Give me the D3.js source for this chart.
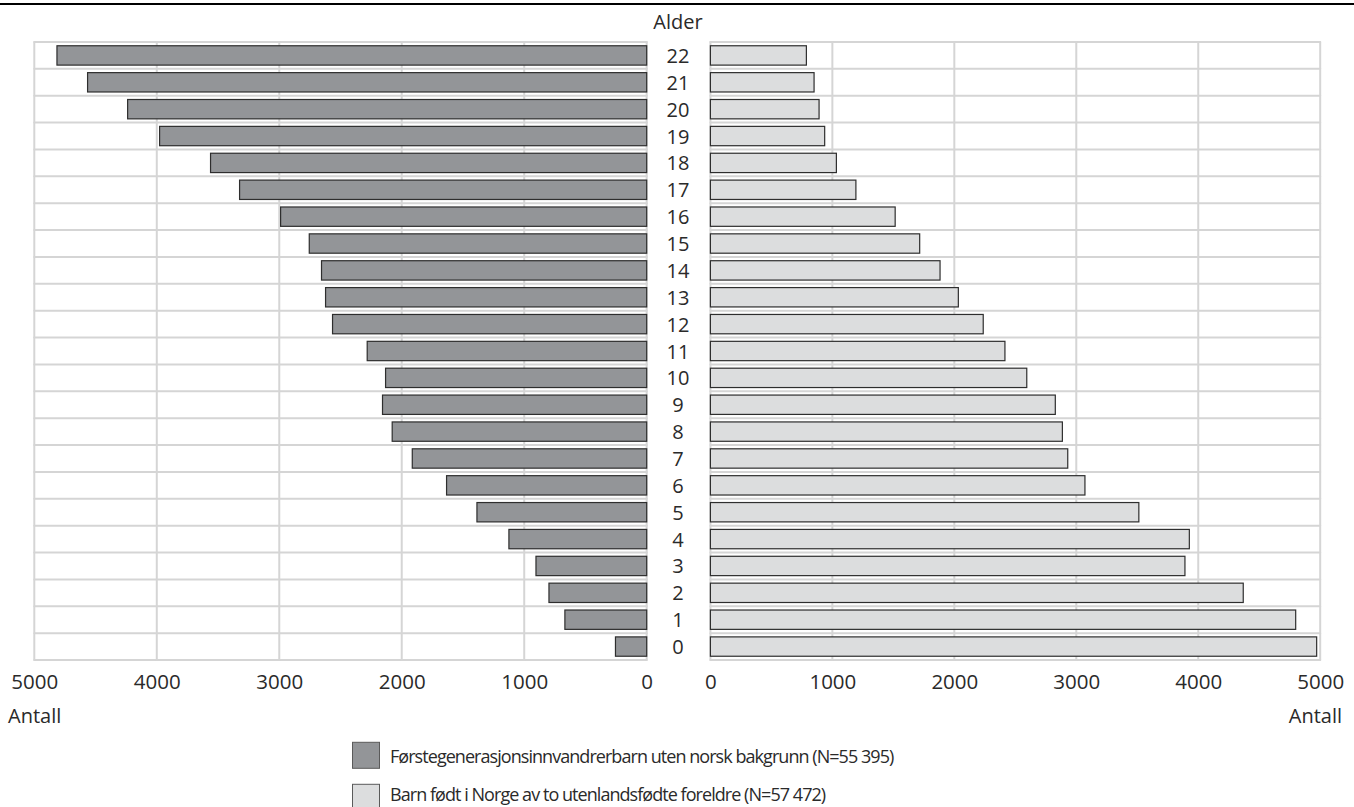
<!DOCTYPE html>
<html>
<head>
<meta charset="utf-8">
<script src="https://cdn.jsdelivr.net/npm/d3@7"></script>
<style>
  body { margin: 0; background: #fff; }
  svg { display: block; font-family: "Open Sans", sans-serif; }
</style>
</head>
<body>
<svg id="chart" width="1354" height="807"></svg>
<script>
// ages from 0 to 22
var ages = ['0','1','2','3','4','5','6','7','8','9','10','11','12','13','14','15','16','17','18','19','20','21','22']
// Førstegenerasjonsinnvandrerbarn (left side)
var firstGen = [255, 668, 798, 904, 1125, 1386, 1634, 1914, 2078, 2157, 2132, 2282, 2565, 2622, 2655, 2755, 2989, 3324, 3561, 3977, 4238, 4565, 4815]
// Barn født i Norge av to utenlandsfødte foreldre (right side)
var bornNorway = [4971, 4799, 4369, 3891, 3927, 3513, 3071, 2930, 2886, 2828, 2594, 2415, 2237, 2033, 1883, 1716, 1515, 1193, 1033, 937, 891, 850, 787]
var xTicks = [0, 1000, 2000, 3000, 4000, 5000]
var seriesNames = [
  'Førstegenerasjonsinnvandrerbarn uten norsk bakgrunn (N=55 395)',
  'Barn født i Norge av to utenlandsfødte foreldre (N=57 472)'
]
var colors = ['#939598', '#dcddde']

var svg = d3.select('#chart')

// black rule at top
svg.append('line')
  .attr('x1', 0).attr('x2', 1354)
  .attr('y1', 4).attr('y2', 4)
  .attr('stroke', '#000')
  .attr('stroke-width', 2)

var leftX = d3.scaleLinear().domain([5000, 0]).range([34.3, 646.7])
var rightX = d3.scaleLinear().domain([0, 5000]).range([710.4, 1320.2])
var y = d3.scaleBand()
  .domain(ages.slice().reverse())
  .range([42, 660])
  .paddingInner(0.28)
  .paddingOuter(0.14)

var step = y.step()
var rowLines = d3.range(ages.length + 1).map(function(k) { return 42 + k * step })

function drawGrid(x) {
  var g = svg.append('g').attr('class', 'grid')
  var r = x.range()
  g.selectAll('line.h')
    .data(rowLines)
    .enter()
    .append('line')
    .attr('x1', d3.min(r)).attr('x2', d3.max(r))
    .attr('y1', function(d) { return d }).attr('y2', function(d) { return d })
  g.selectAll('line.v')
    .data(xTicks)
    .enter()
    .append('line')
    .attr('x1', function(d) { return x(d) }).attr('x2', function(d) { return x(d) })
    .attr('y1', 42).attr('y2', 660)
  g.selectAll('line')
    .attr('stroke', '#d5d5d5')
    .attr('stroke-width', 2)
    .attr('stroke-linecap', 'round')
}
drawGrid(leftX)
drawGrid(rightX)

// left bars
svg.append('g')
  .selectAll('rect')
  .data(firstGen)
  .enter()
  .append('rect')
  .attr('x', function(d) { return leftX(d) })
  .attr('y', function(d, i) { return y(ages[i]) })
  .attr('width', function(d) { return leftX(0) - leftX(d) })
  .attr('height', y.bandwidth())
  .attr('fill', colors[0])
  .attr('stroke', '#2e2e2e')
  .attr('stroke-width', 1.2)

// right bars
svg.append('g')
  .selectAll('rect')
  .data(bornNorway)
  .enter()
  .append('rect')
  .attr('x', rightX(0))
  .attr('y', function(d, i) { return y(ages[i]) })
  .attr('width', function(d) { return rightX(d) - rightX(0) })
  .attr('height', y.bandwidth())
  .attr('fill', colors[1])
  .attr('stroke', '#2e2e2e')
  .attr('stroke-width', 1.2)

// age labels in the middle
svg.append('g')
  .selectAll('text')
  .data(ages)
  .enter()
  .append('text')
  .attr('x', 678)
  .attr('y', function(d) { return y(d) + y.bandwidth() / 2 + 7.5 })
  .attr('text-anchor', 'middle')
  .attr('font-size', 20)
  .attr('fill', '#2a2a2a')
  .text(function(d) { return d })

svg.append('text')
  .attr('x', 678).attr('y', 29)
  .attr('text-anchor', 'middle')
  .attr('font-size', 20)
  .attr('fill', '#2a2a2a')
  .text('Alder')

// x axes
function drawAxis(x) {
  var ax = svg.append('g')
    .attr('transform', 'translate(0,671)')
    .call(d3.axisBottom(x).tickValues(xTicks).tickSize(0).tickFormat(d3.format('d')))
  ax.select('.domain').remove()
  ax.selectAll('text')
    .attr('font-family', '"Open Sans", sans-serif')
    .attr('font-size', 20.5)
    .attr('fill', '#2a2a2a')
    .attr('dy', '0.71em')
}
drawAxis(leftX)
drawAxis(rightX)

svg.append('text')
  .attr('x', 8).attr('y', 723)
  .attr('font-size', 20).attr('fill', '#2a2a2a')
  .text('Antall')
svg.append('text')
  .attr('x', 1342).attr('y', 723)
  .attr('text-anchor', 'end')
  .attr('font-size', 20).attr('fill', '#2a2a2a')
  .text('Antall')

// legend
var legendRows = [{ sy: 742.3, ty: 763.3 }, { sy: 784.3, ty: 801 }]
var legend = svg.append('g')
  .selectAll('g')
  .data(seriesNames)
  .enter()
  .append('g')
legend.append('rect')
  .attr('x', 352.5)
  .attr('y', function(d, i) { return legendRows[i].sy })
  .attr('width', 27).attr('height', 26)
  .attr('fill', function(d, i) { return colors[i] })
  .attr('stroke', '#5a5a5a')
  .attr('stroke-width', 1)
legend.append('text')
  .attr('x', 390)
  .attr('y', function(d, i) { return legendRows[i].ty })
  .attr('font-size', 18)
  .attr('letter-spacing', -0.95)
  .attr('fill', '#2a2a2a')
  .text(function(d) { return d })
</script>
</body>
</html>
